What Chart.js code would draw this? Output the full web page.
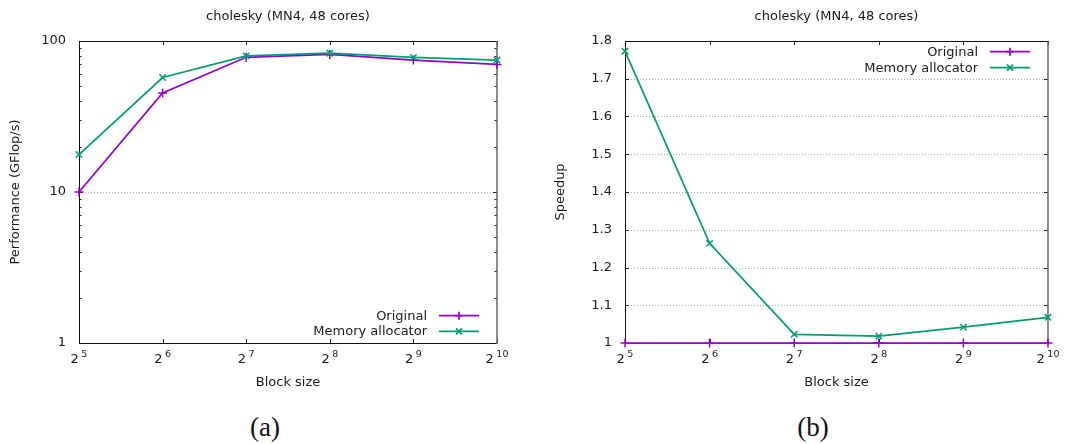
<!DOCTYPE html>
<html>
<head>
<meta charset="utf-8">
<script src="https://cdn.jsdelivr.net/npm/chart.js@4/dist/chart.umd.min.js"></script>
<style>
  html, body { margin: 0; padding: 0; background: #fff; }
  #wrap { position: relative; width: 1073px; height: 444px; overflow: hidden; background: #fff; }
  canvas { position: absolute; top: 0; }
  #perf { left: 0; }
  #speed { left: 540px; }
  .cap { position: absolute; top: 427px; transform: translate(-50%, -50%);
         font-family: "Liberation Serif", "DejaVu Serif", serif; font-size: 27px; color: #111; }
</style>
</head>
<body>
<div id="wrap">
  <canvas id="perf" width="540" height="400"></canvas>
  <canvas id="speed" width="533" height="400"></canvas>
  <div class="cap" style="left:265px">(a)</div>
  <div class="cap" style="left:813px">(b)</div>
</div>
<script>
// ---- data ----
const chartTitle = 'cholesky (MN4, 48 cores)';
const seriesNames = ['Original', 'Memory allocator'];
const blockSizes = [32, 64, 128, 256, 512, 1024];
const blockExponents = ['5', '6', '7', '8', '9', '10'];
const perfOriginal = [10.0, 45.3, 78.0, 81.5, 74.8, 70.0];
const perfAllocator = [17.7, 57.3, 79.7, 83.0, 77.9, 74.8];
const speedupOriginal = [1, 1, 1, 1, 1, 1];
const speedupAllocator = [1.773, 1.264, 1.023, 1.018, 1.042, 1.068];
const perfTicks = [1, 10, 100];
const perfMinorTicks = [2, 3, 4, 5, 6, 7, 8, 9, 20, 30, 40, 50, 60, 70, 80, 90];
const speedupTicks = [1.0, 1.1, 1.2, 1.3, 1.4, 1.5, 1.6, 1.7, 1.8];

// ---- style ----
const FONT = '"DejaVu Sans", Verdana, sans-serif';
const TEXT = '#1a1a1a';
const PURPLE = '#9400d3';
const GREEN = '#009e73';

function seg(ctx, x1, y1, x2, y2) {
  ctx.beginPath(); ctx.moveTo(x1, y1); ctx.lineTo(x2, y2); ctx.stroke();
}

function marker(ctx, style, x, y, r) {
  if (style === 'cross') {
    seg(ctx, x - r, y, x + r, y); seg(ctx, x, y - r, x, y + r);
  } else {
    const d = r * 0.75;
    seg(ctx, x - d, y - d, x + d, y + d); seg(ctx, x - d, y + d, x + d, y - d);
  }
}

// gnuplot-like frame, inward ticks, dotted grid, title, legend, 2^n labels
const decor = {
  id: 'decor',
  beforeDatasetsDraw(chart, args, o) {
    const { ctx, chartArea: a, scales: { x, y } } = chart;
    ctx.save();
    ctx.lineWidth = 1;
    ctx.strokeStyle = '#a8a8a8';
    ctx.setLineDash([1, 2]);
    o.grid.forEach(v => {
      const py = Math.round(y.getPixelForValue(v)) + 0.5;
      seg(ctx, a.left, py, a.right, py);
    });
    ctx.setLineDash([]);
    ctx.strokeStyle = '#222';
    blockSizes.forEach(v => {
      const px = Math.round(x.getPixelForValue(v)) + 0.5;
      seg(ctx, px, a.bottom, px, a.bottom - 4);
      seg(ctx, px, a.top, px, a.top + 4);
    });
    o.major.forEach(v => {
      const py = Math.round(y.getPixelForValue(v)) + 0.5;
      seg(ctx, a.left, py, a.left + 4, py);
      seg(ctx, a.right, py, a.right - 4, py);
    });
    o.minor.forEach(v => {
      const py = Math.round(y.getPixelForValue(v)) + 0.5;
      seg(ctx, a.left, py, a.left + 2.5, py);
      seg(ctx, a.right, py, a.right - 2.5, py);
    });
    ctx.strokeStyle = '#111';
    seg(ctx, a.left + 0.5, a.top, a.left + 0.5, a.bottom + 1);
    seg(ctx, a.left, a.top + 0.5, a.right, a.top + 0.5);
    seg(ctx, a.left, a.bottom + 0.5, a.right, a.bottom + 0.5);
    ctx.strokeStyle = '#666';
    ctx.lineWidth = 1.5;
    seg(ctx, a.right, a.top, a.right, a.bottom + 1);
    ctx.restore();
  },
  afterDraw(chart, args, o) {
    const { ctx, chartArea: a, scales: { x } } = chart;
    ctx.save();
    ctx.fillStyle = TEXT;
    ctx.textBaseline = 'middle';
    ctx.textAlign = 'center';
    ctx.font = '13px ' + FONT;
    ctx.fillText(chartTitle, (a.left + a.right) / 2, 17);

    // x tick labels as base 2 with raised exponent
    ctx.textBaseline = 'alphabetic';
    ctx.textAlign = 'left';
    blockSizes.forEach((v, i) => {
      const px = x.getPixelForValue(v);
      ctx.font = '13px ' + FONT;
      const wb = ctx.measureText('2').width;
      ctx.font = '9.5px ' + FONT;
      const we = ctx.measureText(blockExponents[i]).width;
      const gap = 2.5;
      const x0 = px - (wb + gap + we) / 2;
      ctx.font = '13px ' + FONT;
      ctx.fillText('2', x0, a.bottom + 19.5);
      ctx.font = '9.5px ' + FONT;
      ctx.fillText(blockExponents[i], x0 + wb + gap, a.bottom + 14);
    });

    // legend: right-aligned text, then line sample with marker
    ctx.font = '13px ' + FONT;
    ctx.textAlign = 'right';
    ctx.textBaseline = 'middle';
    chart.data.datasets.forEach((ds, i) => {
      const cy = o.legendY(a) + i * o.legendStep;
      ctx.fillStyle = TEXT;
      ctx.fillText(ds.label, a.right - 70, cy + 0.5);
      ctx.strokeStyle = ds.borderColor;
      ctx.lineWidth = 1.75;
      seg(ctx, a.right - 58, cy, a.right - 18, cy);
      marker(ctx, ds.pointStyle, a.right - 38, cy, 4);
    });
    ctx.restore();
  }
};

function series(label, xs, ys, color, style, order) {
  return {
    label, order,
    data: xs.map((b, i) => ({ x: b, y: ys[i] })),
    borderColor: color, backgroundColor: color,
    borderWidth: 1.75, tension: 0, clip: false,
    pointStyle: style, pointRadius: 4.5, pointHoverRadius: 4.5,
    pointBorderWidth: 1.5, pointBorderColor: color
  };
}

function xScale() {
  return {
    type: 'logarithmic', min: blockSizes[0], max: blockSizes[blockSizes.length - 1], bounds: 'data',
    afterBuildTicks: s => { s.ticks = blockSizes.map(v => ({ value: v })); },
    afterFit: s => { s.height = 57; },
    ticks: { display: false },
    grid: { display: false, drawTicks: false },
    border: { display: false },
    title: { display: true, text: 'Block size', color: TEXT,
             font: { family: FONT, size: 13 }, padding: { top: 0, bottom: 9.5 } }
  };
}

new Chart(document.getElementById('perf'), {
  type: 'line',
  data: {
    datasets: [
      series(seriesNames[0], blockSizes, perfOriginal, PURPLE, 'cross', 2),
      series(seriesNames[1], blockSizes, perfAllocator, GREEN, 'crossRot', 1)
    ]
  },
  options: {
    responsive: false, animation: false, devicePixelRatio: 1, events: [],
    layout: { padding: { top: 41, right: 43, left: 0, bottom: 0 } },
    plugins: {
      legend: { display: false }, tooltip: { enabled: false },
      decor: { grid: [10], major: perfTicks, minor: perfMinorTicks,
               legendY: a => a.bottom - 27.3, legendStep: 15.6 }
    },
    scales: {
      x: xScale(),
      y: {
        type: 'logarithmic', min: 1, max: 100, bounds: 'data',
        afterBuildTicks: s => { s.ticks = perfTicks.map(v => ({ value: v })); },
        afterFit: s => { s.width = 79; },
        ticks: { color: TEXT, font: { family: FONT, size: 13 }, padding: 13, autoSkip: false,
                 callback: v => String(v) },
        grid: { display: false, drawTicks: false },
        border: { display: false },
        title: { display: true, text: 'Performance (GFlop/s)', color: TEXT,
                 font: { family: FONT, size: 13 }, padding: { top: 8.2, bottom: 0 } }
      }
    }
  },
  plugins: [decor]
});

new Chart(document.getElementById('speed'), {
  type: 'line',
  data: {
    datasets: [
      series(seriesNames[0], blockSizes, speedupOriginal, PURPLE, 'cross', 1),
      series(seriesNames[1], blockSizes, speedupAllocator, GREEN, 'crossRot', 2)
    ]
  },
  options: {
    responsive: false, animation: false, devicePixelRatio: 1, events: [],
    layout: { padding: { top: 41, right: 25, left: 0, bottom: 0 } },
    plugins: {
      legend: { display: false }, tooltip: { enabled: false },
      decor: { grid: speedupTicks.slice(1, -1), major: speedupTicks, minor: [],
               legendY: a => a.top + 10.7, legendStep: 16 }
    },
    scales: {
      x: xScale(),
      y: {
        type: 'linear', min: 1, max: 1.8, bounds: 'data',
        afterBuildTicks: s => { s.ticks = speedupTicks.map(v => ({ value: v })); },
        afterFit: s => { s.width = 85; },
        ticks: { color: TEXT, font: { family: FONT, size: 13 }, padding: 13, autoSkip: false,
                 callback: v => (Math.abs(v - 1) < 1e-9 ? '1' : v.toFixed(1)) },
        grid: { display: false, drawTicks: false },
        border: { display: false },
        title: { display: true, text: 'Speedup', color: TEXT,
                 font: { family: FONT, size: 13 }, padding: { top: 13.2, bottom: 0 } }
      }
    }
  },
  plugins: [decor]
});
</script>
</body>
</html>
